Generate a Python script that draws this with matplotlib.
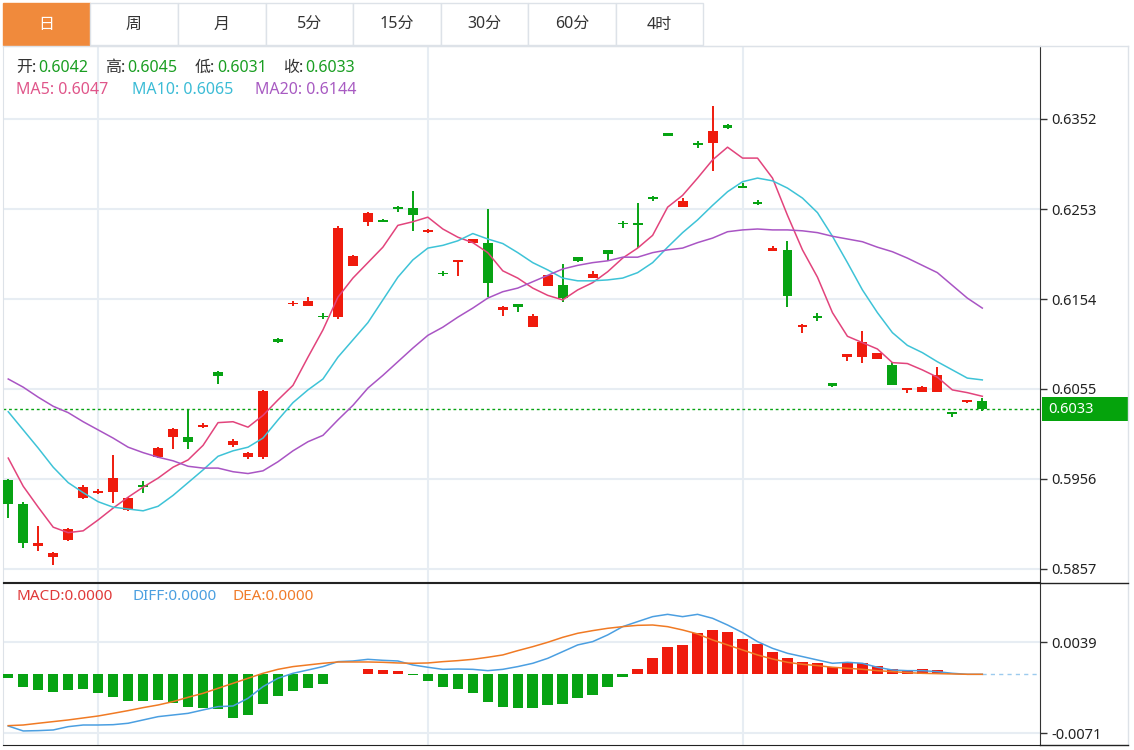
import matplotlib.pyplot as plt
from matplotlib.patches import Rectangle
from matplotlib.transforms import blended_transform_factory

plt.rcParams['font.family'] = ['Noto Sans', 'Noto Sans CJK SC', 'DejaVu Sans']

# ---- data (daily candles) ----
opens = [0.5955, 0.5929, 0.5882, 0.5870, 0.5889, 0.5935, 0.5941, 0.5942, 0.5922, 0.5949,
         0.5980, 0.6002, 0.6002, 0.6013, 0.6074, 0.5993, 0.5980, 0.5980, 0.6110, 0.6148,
         0.6146, 0.6135, 0.6134, 0.6190, 0.6239, 0.6241, 0.6255, 0.6254, 0.6228, 0.6183,
         0.6195, 0.6216, 0.6216, 0.6142, 0.6148, 0.6123, 0.6168, 0.6169, 0.6200, 0.6177,
         0.6208, 0.6238, 0.6238, 0.6266, 0.6337, 0.6255, 0.6326, 0.6326, 0.6345, 0.6278,
         0.6261, 0.6207, 0.6208, 0.6123, 0.6135, 0.6062, 0.6090, 0.6090, 0.6088, 0.6081,
         0.6054, 0.6052, 0.6052, 0.6030, 0.6041, 0.6042]
highs = [0.5956, 0.5931, 0.5904, 0.5876, 0.5902, 0.5949, 0.5945, 0.5982, 0.5936, 0.5954,
         0.5991, 0.6012, 0.6033, 0.6018, 0.6075, 0.6000, 0.5986, 0.6054, 0.6111, 0.6152,
         0.6156, 0.6139, 0.6234, 0.6202, 0.6250, 0.6242, 0.6256, 0.6273, 0.6231, 0.6185,
         0.6197, 0.6220, 0.6253, 0.6146, 0.6149, 0.6138, 0.6180, 0.6193, 0.6200, 0.6185,
         0.6208, 0.6240, 0.6260, 0.6267, 0.6337, 0.6265, 0.6328, 0.6366, 0.6347, 0.6282,
         0.6263, 0.6212, 0.6218, 0.6126, 0.6139, 0.6062, 0.6094, 0.6119, 0.6095, 0.6085,
         0.6056, 0.6058, 0.6079, 0.6030, 0.6043, 0.6045]
lows = [0.5913, 0.5880, 0.5877, 0.5861, 0.5888, 0.5934, 0.5939, 0.5930, 0.5921, 0.5941,
        0.5979, 0.5989, 0.5989, 0.6012, 0.6060, 0.5991, 0.5978, 0.5978, 0.6106, 0.6146,
        0.6146, 0.6132, 0.6132, 0.6190, 0.6234, 0.6239, 0.6250, 0.6229, 0.6227, 0.6179,
        0.6179, 0.6216, 0.6156, 0.6135, 0.6140, 0.6123, 0.6168, 0.6151, 0.6195, 0.6177,
        0.6196, 0.6232, 0.6210, 0.6262, 0.6333, 0.6255, 0.6320, 0.6295, 0.6341, 0.6276,
        0.6257, 0.6207, 0.6145, 0.6117, 0.6130, 0.6057, 0.6086, 0.6084, 0.6088, 0.6059,
        0.6051, 0.6052, 0.6052, 0.6024, 0.6040, 0.6031]
closes = [0.5929, 0.5886, 0.5886, 0.5875, 0.5901, 0.5947, 0.5943, 0.5957, 0.5935, 0.5947,
          0.5990, 0.6011, 0.5997, 0.6015, 0.6069, 0.5998, 0.5985, 0.6053, 0.6107, 0.6150,
          0.6152, 0.6134, 0.6232, 0.6201, 0.6249, 0.6239, 0.6253, 0.6246, 0.6230, 0.6181,
          0.6197, 0.6220, 0.6172, 0.6145, 0.6145, 0.6135, 0.6180, 0.6155, 0.6196, 0.6181,
          0.6204, 0.6236, 0.6235, 0.6264, 0.6333, 0.6262, 0.6323, 0.6339, 0.6342, 0.6276,
          0.6259, 0.6210, 0.6157, 0.6125, 0.6133, 0.6058, 0.6093, 0.6107, 0.6095, 0.6059,
          0.6056, 0.6057, 0.6070, 0.6027, 0.6043, 0.6033]

ma5 = [0.5979, 0.5948, 0.5925, 0.5903, 0.5897, 0.5899, 0.5911, 0.5924, 0.5936, 0.5947,
       0.5957, 0.5969, 0.5977, 0.5993, 0.6018, 0.6019, 0.6013, 0.6026, 0.6043, 0.6059,
       0.6090, 0.6120, 0.6156, 0.6177, 0.6194, 0.6211, 0.6235, 0.6239, 0.6244, 0.6231,
       0.6222, 0.6216, 0.6205, 0.6185, 0.6177, 0.6166, 0.6158, 0.6153, 0.6164, 0.6172,
       0.6184, 0.6199, 0.6210, 0.6224, 0.6255, 0.6268, 0.6287, 0.6307, 0.6321, 0.6309,
       0.6309, 0.6287, 0.6246, 0.6208, 0.6178, 0.6139, 0.6113, 0.6106, 0.6099, 0.6084,
       0.6083, 0.6076, 0.6068, 0.6054, 0.6051, 0.6047]
ma10 = [0.6030, 0.6010, 0.5990, 0.5969, 0.5952, 0.5941, 0.5931, 0.5925, 0.5923, 0.5921,
        0.5926, 0.5938, 0.5952, 0.5966, 0.5981, 0.5987, 0.5991, 0.6001, 0.6021, 0.6040,
        0.6054, 0.6066, 0.6090, 0.6109, 0.6128, 0.6153, 0.6178, 0.6197, 0.6210, 0.6213,
        0.6218, 0.6226, 0.6220, 0.6215, 0.6205, 0.6194, 0.6186, 0.6177, 0.6174, 0.6174,
        0.6175, 0.6177, 0.6183, 0.6194, 0.6211, 0.6227, 0.6241, 0.6257, 0.6272, 0.6283,
        0.6287, 0.6284, 0.6276, 0.6265, 0.6249, 0.6223, 0.6194, 0.6164, 0.6139, 0.6117,
        0.6103, 0.6095, 0.6085, 0.6076, 0.6067, 0.6065]
ma20 = [0.6066, 0.6057, 0.6046, 0.6036, 0.6029, 0.6019, 0.6010, 0.6001, 0.5991, 0.5985,
        0.5980, 0.5976, 0.5970, 0.5968, 0.5968, 0.5964, 0.5962, 0.5965, 0.5975, 0.5987,
        0.5997, 0.6004, 0.6021, 0.6037, 0.6056, 0.6070, 0.6085, 0.6100, 0.6114, 0.6123,
        0.6134, 0.6144, 0.6155, 0.6162, 0.6166, 0.6173, 0.6180, 0.6187, 0.6191, 0.6194,
        0.6196, 0.6200, 0.6200, 0.6205, 0.6208, 0.6210, 0.6216, 0.6221, 0.6228, 0.6230,
        0.6231, 0.6230, 0.6230, 0.6229, 0.6227, 0.6223, 0.6220, 0.6217, 0.6211, 0.6206,
        0.6199, 0.6191, 0.6183, 0.6169, 0.6155, 0.6144]

macd_hist = [-0.00048, -0.00149, -0.00189, -0.00210, -0.00189, -0.00181, -0.00230, -0.00270, -0.00322, -0.00322,
             -0.00310, -0.00343, -0.00395, -0.00403, -0.00423, -0.00524, -0.00492, -0.00359, -0.00262, -0.00197,
             -0.00169, -0.00117, 0.00004, 0.00004, 0.00064, 0.00056, 0.00040, -0.00004, -0.00080, -0.00157,
             -0.00177, -0.00230, -0.00339, -0.00399, -0.00411, -0.00411, -0.00371, -0.00363, -0.00290, -0.00254,
             -0.00149, -0.00036, 0.00060, 0.00202, 0.00330, 0.00355, 0.00496, 0.00536, 0.00516, 0.00423,
             0.00363, 0.00274, 0.00193, 0.00153, 0.00141, 0.00093, 0.00145, 0.00133, 0.00101, 0.00064,
             0.00052, 0.00060, 0.00052, 0.00010, 0.00003, 0.00002]
diff = [-0.00625, -0.00685, -0.00681, -0.00673, -0.00633, -0.00613, -0.00613, -0.00609, -0.00592, -0.00552,
        -0.00512, -0.00492, -0.00472, -0.00431, -0.00391, -0.00383, -0.00290, -0.00149, -0.00048, 0.00012,
        0.00052, 0.00093, 0.00153, 0.00161, 0.00181, 0.00169, 0.00161, 0.00113, 0.00085, 0.00060,
        0.00064, 0.00060, 0.00044, 0.00060, 0.00093, 0.00133, 0.00193, 0.00274, 0.00355, 0.00395,
        0.00476, 0.00576, 0.00637, 0.00697, 0.00725, 0.00697, 0.00725, 0.00677, 0.00596, 0.00504,
        0.00395, 0.00314, 0.00254, 0.00214, 0.00173, 0.00133, 0.00145, 0.00133, 0.00085, 0.00052,
        0.00044, 0.00044, 0.00032, 0.00012, 0.00000, 0.00000]
dea = [-0.00621, -0.00613, -0.00592, -0.00572, -0.00552, -0.00528, -0.00504, -0.00472, -0.00439, -0.00403,
       -0.00371, -0.00330, -0.00278, -0.00230, -0.00169, -0.00109, -0.00048, 0.00012, 0.00060, 0.00093,
       0.00113, 0.00133, 0.00149, 0.00149, 0.00149, 0.00145, 0.00137, 0.00133, 0.00137, 0.00153,
       0.00165, 0.00181, 0.00206, 0.00234, 0.00286, 0.00334, 0.00387, 0.00447, 0.00496, 0.00528,
       0.00556, 0.00576, 0.00592, 0.00596, 0.00576, 0.00536, 0.00488, 0.00415, 0.00355, 0.00294,
       0.00234, 0.00185, 0.00145, 0.00121, 0.00105, 0.00085, 0.00073, 0.00060, 0.00044, 0.00032,
       0.00020, 0.00012, 0.00008, 0.00004, 0.00000, 0.00000]

price_ticks = [0.5857, 0.5956, 0.6055, 0.6154, 0.6253, 0.6352]
macd_ticks = [-0.0071, 0.0039]
periods = ['日', '周', '月', '5分', '15分', '30分', '60分', '4时']

RED = '#ef1b0d'
GREEN = '#07a313'
GRID = '#e7edf3'
FRAME = '#dde2e8'

W, H = 1134, 750
fig = plt.figure(figsize=(W / 100, H / 100), dpi=100)


def px_axes(x0, y0, x1, y1):
    return fig.add_axes([x0 / W, 1 - y1 / H, (x1 - x0) / W, (y1 - y0) / H])


n = len(closes)
idx = list(range(n))
XLIM = (-0.35, 68.85)

# ---- main candlestick panel ----
ax = px_axes(3, 46, 1040, 582)
ax.set_xlim(*XLIM)
ax.set_ylim(0.58427, 0.64323)

for i in idx:
    o, h, l, c = opens[i], highs[i], lows[i], closes[i]
    col = RED if c >= o else GREEN
    ax.vlines(i, l, h, color=col, lw=1.4, zorder=3)
    body = max(abs(c - o), 0.00018)
    ax.bar(i, body, bottom=min(o, c), width=0.66, color=col, zorder=3, linewidth=0)

ax.plot(idx, ma5, color='#e2447c', lw=1.1, zorder=4)
ax.plot(idx, ma10, color='#3ec3d7', lw=1.1, zorder=4)
ax.plot(idx, ma20, color='#a955c4', lw=1.1, zorder=4)

last = closes[-1]
ax.axhline(last, color=GREEN, lw=1, ls=(0, (2, 2)), zorder=2)
bt = blended_transform_factory(ax.transAxes, ax.transData)
ax.add_patch(Rectangle((1.0015, last - 0.00127), 0.0839, 0.00254, transform=bt,
                       facecolor='#05a30c', edgecolor='none', clip_on=False, zorder=5))
ax.text(1.008, last, f'{last:.4f}', transform=bt, color='white', fontsize=10.5,
        va='center', ha='left', zorder=6)

ax.yaxis.tick_right()
ax.set_yticks(price_ticks)
ax.set_yticklabels([f'{t:.4f}' for t in price_ticks])
ax.set_xticks([6, 28, 49])
ax.set_xticklabels([])
ax.tick_params(axis='y', length=5, width=1, color='#333333', labelsize=10.5,
               labelcolor='#222222', pad=3)
ax.tick_params(axis='x', length=0)
ax.grid(True, color=GRID, lw=1.5, zorder=0)
ax.set_axisbelow(True)
for side in ('left', 'top'):
    ax.spines[side].set_color(FRAME)
ax.spines['right'].set_color('#333333')
ax.spines['bottom'].set_color('#222222')

# ---- MACD panel ----
ax2 = px_axes(3, 583, 1040, 745)
ax2.set_xlim(*XLIM)
ax2.set_ylim(-0.008548, 0.011038)
ax2.bar(idx, macd_hist, width=0.7, color=[RED if v >= 0 else GREEN for v in macd_hist],
        linewidth=0, zorder=3)
ax2.plot(idx, diff, color='#4b9fe1', lw=1.1, zorder=4)
ax2.plot(idx, dea, color='#f07a24', lw=1.1, zorder=4)
ax2.hlines(0, n - 1, XLIM[1], color='#9ccbee', lw=1, linestyles=(0, (3, 3)), zorder=2)

ax2.yaxis.tick_right()
ax2.set_yticks(macd_ticks)
ax2.set_yticklabels([f'{t:.4f}' for t in macd_ticks])
ax2.set_xticks([6, 28, 49])
ax2.set_xticklabels([])
ax2.tick_params(axis='y', length=5, width=1, color='#333333', labelsize=10.5,
                labelcolor='#222222', pad=3)
ax2.tick_params(axis='x', length=0)
ax2.grid(True, color=GRID, lw=1.5, zorder=0)
ax2.set_axisbelow(True)
ax2.spines['left'].set_color(FRAME)
ax2.spines['top'].set_color('#222222')
ax2.spines['right'].set_color('#333333')
ax2.spines['bottom'].set_color('#222222')

# ---- overlay in pixel coords: tabs, frame, header text ----
ov = fig.add_axes([0, 0, 1, 1], facecolor='none')
ov.set_xlim(0, W)
ov.set_ylim(H, 0)
ov.axis('off')

edges = [3, 90, 178, 266, 353, 441, 528, 616, 703]
for k, name in enumerate(periods):
    x0, x1 = edges[k], edges[k + 1]
    first = k == 0
    ov.add_patch(Rectangle((x0, 3), x1 - x0, 42, facecolor='#f08a3c' if first else 'white',
                           edgecolor='#f08a3c' if first else FRAME, lw=1))
    ov.text((x0 + x1) / 2, 25, name, ha='center', va='center', fontsize=11.5,
            color='white' if first else '#333333')

ov.plot([3, 1128], [45.5, 45.5], color=FRAME, lw=1)
ov.plot([1128, 1128], [45.5, 745], color=FRAME, lw=1)
ov.plot([1040, 1128], [582.5, 582.5], color='#222222', lw=1)
ov.plot([1040, 1128], [745, 745], color='#222222', lw=1)

fs = 11.5
ov.text(16, 68, '开:', color='#333333', fontsize=fs, va='center')
ov.text(38, 68, f'{opens[-1]:.4f}', color='#1a9e22', fontsize=fs, va='center')
ov.text(105, 68, '高:', color='#333333', fontsize=fs, va='center')
ov.text(127, 68, f'{highs[-1]:.4f}', color='#1a9e22', fontsize=fs, va='center')
ov.text(195, 68, '低:', color='#333333', fontsize=fs, va='center')
ov.text(217, 68, f'{lows[-1]:.4f}', color='#1a9e22', fontsize=fs, va='center')
ov.text(283, 68, '收:', color='#333333', fontsize=fs, va='center')
ov.text(305, 68, f'{closes[-1]:.4f}', color='#1a9e22', fontsize=fs, va='center')

ov.text(16, 90, f'MA5: {ma5[-1]:.4f}', color='#e0568a', fontsize=fs, va='center')
ov.text(132, 90, f'MA10: {ma10[-1]:.4f}', color='#3cbcd6', fontsize=fs, va='center')
ov.text(255, 90, f'MA20: {ma20[-1]:.4f}', color='#a85bc2', fontsize=fs, va='center')

ov.text(17, 597, 'MACD:0.0000', color='#e03a3a', fontsize=11, va='center')
ov.text(132, 597, 'DIFF:0.0000', color='#4a9fe0', fontsize=11, va='center')
ov.text(233, 597, 'DEA:0.0000', color='#f07c2a', fontsize=11, va='center')

fig.savefig('out.png', dpi=100, facecolor='white')
